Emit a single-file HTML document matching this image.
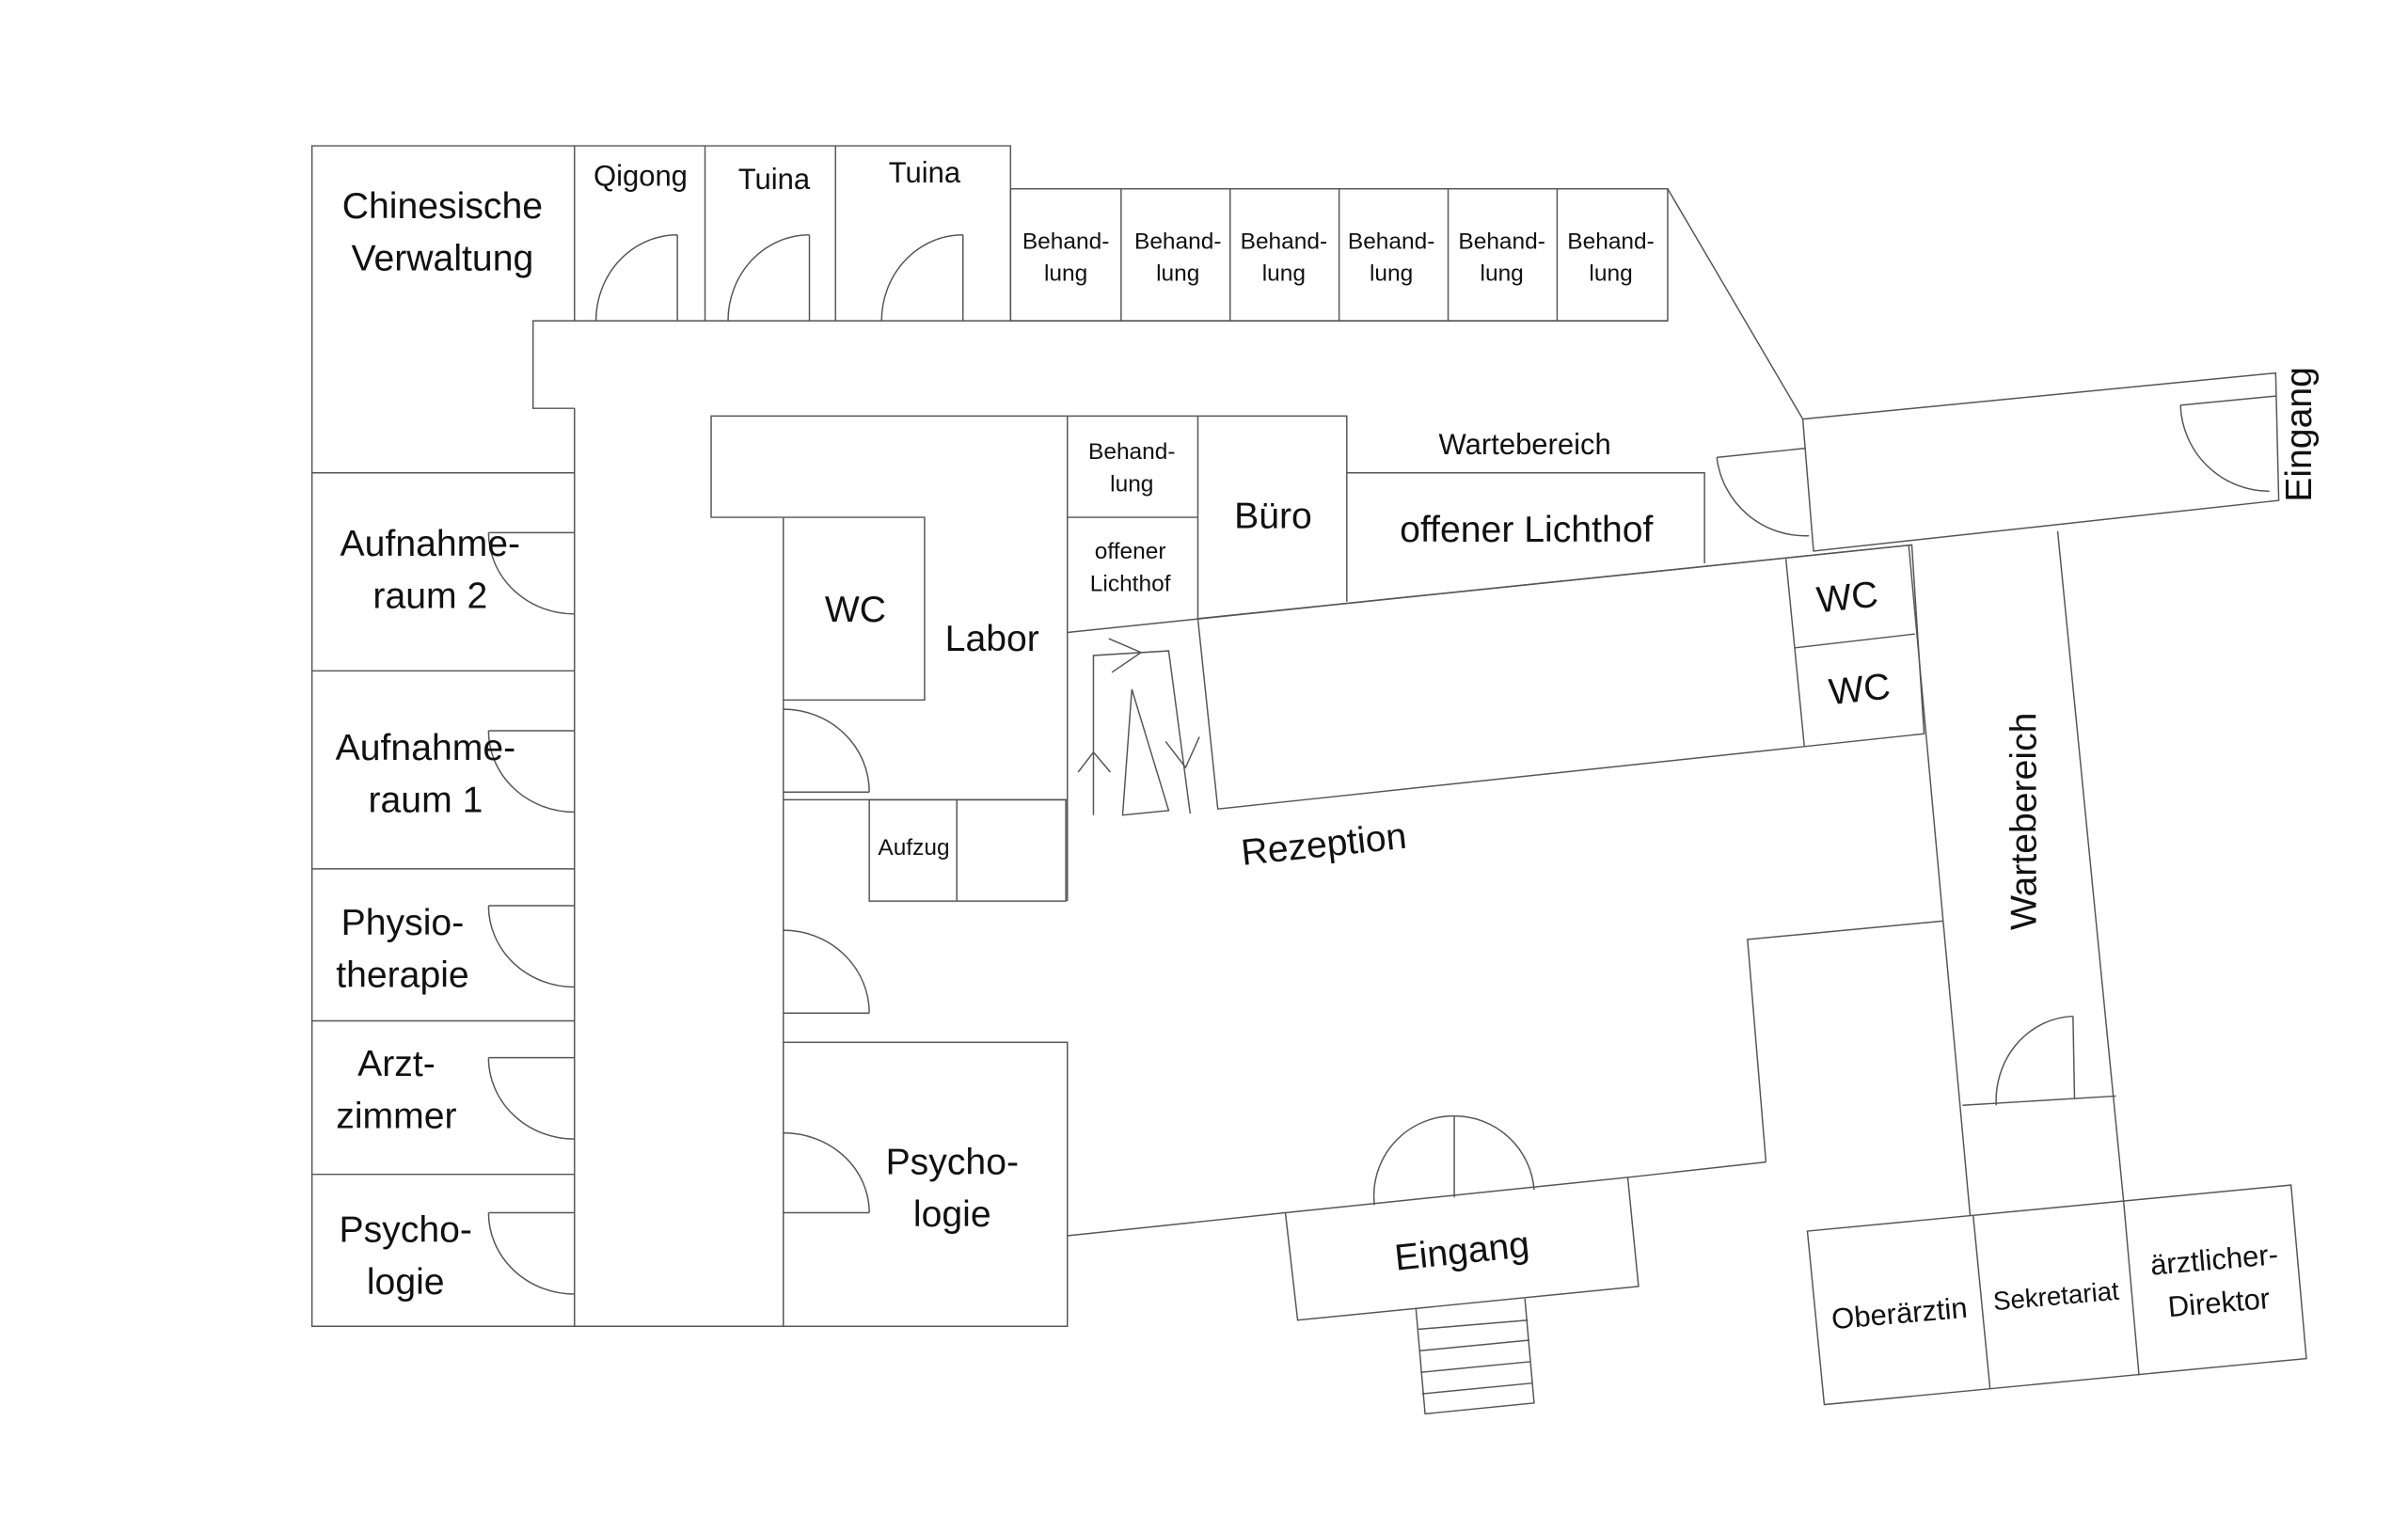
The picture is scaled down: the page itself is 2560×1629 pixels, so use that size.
<!DOCTYPE html>
<html><head><meta charset="utf-8"><style>
html,body{margin:0;padding:0;background:#fff;}
svg{display:block}
text{font-family:"Liberation Sans",sans-serif;fill:#111;}
</style></head><body>
<svg width="2560" height="1629" viewBox="0 0 1568 998" xmlns="http://www.w3.org/2000/svg">
<g fill="none" stroke="#555" stroke-width="0.9">
<!-- left column -->
<polyline points="374,209 374,95 203,95 203,864 374,864 374,266"/>
<line x1="203" y1="308" x2="374" y2="308"/>
<line x1="203" y1="437" x2="374" y2="437"/>
<line x1="203" y1="566" x2="374" y2="566"/>
<line x1="203" y1="665" x2="374" y2="665"/>
<line x1="203" y1="765" x2="374" y2="765"/>
<!-- top rooms -->
<polyline points="374,95 658,95 658,209"/>
<line x1="459" y1="95" x2="459" y2="209"/>
<line x1="544" y1="95" x2="544" y2="209"/>
<rect x="658" y="123" width="428" height="86"/>
<line x1="730" y1="123" x2="730" y2="209"/>
<line x1="801" y1="123" x2="801" y2="209"/>
<line x1="872" y1="123" x2="872" y2="209"/>
<line x1="943" y1="123" x2="943" y2="209"/>
<line x1="1014" y1="123" x2="1014" y2="209"/>
<!-- corridor -->
<polyline points="374,266 347,266 347,209 1086,209"/>
<line x1="1086" y1="123" x2="1174" y2="273"/>
<line x1="374" y1="864" x2="510" y2="864"/>
<!-- right wing entrance -->
<polygon points="1174,273 1482,243 1484,326 1181,359"/>
<line x1="1420" y1="264" x2="1482" y2="258"/>
<path d="M1420,264 A58,58 0 0 0 1478,320"/>
<line x1="1118" y1="298" x2="1176" y2="292"/>
<path d="M1118,298 A58,58 0 0 0 1178,349"/>
<!-- inner block -->
<polyline points="510,337 463,337 463,271 877,271 877,392"/>
<line x1="695" y1="271" x2="695" y2="587"/>
<line x1="780" y1="271" x2="780" y2="403"/>
<line x1="695" y1="337" x2="780" y2="337"/>
<polyline points="877,308 1110,308 1110,367"/>
<line x1="695" y1="412" x2="1245" y2="355"/>
<!-- WC labor -->
<line x1="510" y1="337" x2="510" y2="864"/>
<polyline points="510,337 602,337 602,456 510,456"/>
<line x1="510" y1="521" x2="695" y2="521"/>
<rect x="566" y="521" width="128" height="66"/>
<line x1="623" y1="521" x2="623" y2="587"/>
<line x1="510" y1="516" x2="566" y2="516"/>
<path d="M510,462 A56,54 0 0 1 566,516"/>
<line x1="510" y1="660" x2="566" y2="660"/>
<path d="M510,606 A56,54 0 0 1 566,660"/>
<rect x="510" y="679" width="185" height="185"/>
<line x1="510" y1="790" x2="566" y2="790"/>
<path d="M510,738 A56,52 0 0 1 566,790"/>
<!-- left doors -->
<line x1="318" y1="347" x2="374" y2="347"/><path d="M318,347 A56,53 0 0 0 374,400"/>
<line x1="318" y1="476" x2="374" y2="476"/><path d="M318,476 A56,53 0 0 0 374,529"/>
<line x1="318" y1="590" x2="374" y2="590"/><path d="M318,590 A56,53 0 0 0 374,643"/>
<line x1="318" y1="689" x2="374" y2="689"/><path d="M318,689 A56,53 0 0 0 374,742"/>
<line x1="318" y1="790" x2="374" y2="790"/><path d="M318,790 A56,53 0 0 0 374,843"/>
<!-- top doors -->
<line x1="441" y1="153" x2="441" y2="209"/><path d="M441,153 A53,56 0 0 0 388,209"/>
<line x1="527" y1="153" x2="527" y2="209"/><path d="M527,153 A53,56 0 0 0 474,209"/>
<line x1="627" y1="153" x2="627" y2="209"/><path d="M627,153 A53,56 0 0 0 574,209"/>
<!-- Rezeption block -->
<polygon points="780,403 793,527 1253,478 1245,355"/>
<line x1="1163" y1="364" x2="1175" y2="486"/>
<line x1="1169" y1="422" x2="1247" y2="413"/>
<!-- corridor right -->
<line x1="1243" y1="355" x2="1283" y2="792"/>
<line x1="1340" y1="346" x2="1383" y2="783"/>
<line x1="1278" y1="720" x2="1378" y2="714"/>
<line x1="1350" y1="662" x2="1351" y2="716"/>
<path d="M1350,662 A52,55 0 0 0 1300,720"/>
<!-- bottom right -->
<polygon points="1177,802 1492,772 1502,885 1188,915"/>
<line x1="1285" y1="792" x2="1296" y2="905"/>
<line x1="1383" y1="783" x2="1393" y2="896"/>
<!-- bottom main -->
<line x1="695" y1="805" x2="837" y2="790"/>
<line x1="1060" y1="767" x2="1150" y2="757"/>
<polyline points="1150,757 1138,612 1265,600"/>
<polygon points="837,790 1060,767 1067,838 845,860"/>
<line x1="947" y1="727" x2="947" y2="780"/>
<path d="M895,785 A52,52 0 0 1 947,727 A52,52 0 0 1 999,775"/>
<polyline points="922,852 928,921 999,914 993,846"/>
<line x1="923" y1="866" x2="995" y2="860"/>
<line x1="924" y1="880" x2="996" y2="873"/>
<line x1="925" y1="894" x2="997" y2="887"/>
<line x1="926" y1="908" x2="998" y2="901"/>
<!-- stairs arrows -->
<polyline points="712,531 712,427 761,424 775,530"/>
<polyline points="702,503 712,490 723,503"/>
<polyline points="722,416 743,425 724,438"/>
<polyline points="759,483 772,500 781,480"/>
<polygon points="737,449 731,531 761,528"/>
</g>
<g font-size="24">
<text x="288" y="142" text-anchor="middle">Chinesische</text>
<text x="288" y="176" text-anchor="middle">Verwaltung</text>
<text x="280" y="362" text-anchor="middle">Aufnahme-</text>
<text x="280" y="396" text-anchor="middle">raum 2</text>
<text x="277" y="495" text-anchor="middle">Aufnahme-</text>
<text x="277" y="529" text-anchor="middle">raum 1</text>
<text x="262" y="609" text-anchor="middle">Physio-</text>
<text x="262" y="643" text-anchor="middle">therapie</text>
<text x="258" y="701" text-anchor="middle">Arzt-</text>
<text x="258" y="735" text-anchor="middle">zimmer</text>
<text x="264" y="809" text-anchor="middle">Psycho-</text>
<text x="264" y="843" text-anchor="middle">logie</text>
<text x="620" y="765" text-anchor="middle">Psycho-</text>
<text x="620" y="799" text-anchor="middle">logie</text>
<text x="557" y="405" text-anchor="middle">WC</text>
<text x="646" y="424" text-anchor="middle">Labor</text>
<text x="829" y="344" text-anchor="middle">Büro</text>
<text x="994" y="353" text-anchor="middle">offener Lichthof</text>
<text x="1203" y="397" text-anchor="middle" transform="rotate(-6 1203 389)">WC</text>
<text x="1211" y="457" text-anchor="middle" transform="rotate(-6 1211 449)">WC</text>
<text x="862" y="558" text-anchor="middle" transform="rotate(-6 862 550)">Rezeption</text>
<text x="952" y="823" text-anchor="middle" transform="rotate(-6 952 815)">Eingang</text>
<text x="1318" y="535" text-anchor="middle" transform="rotate(-90 1318 535)" dy="8">Wartebereich</text>
<text x="1497" y="283" text-anchor="middle" transform="rotate(-90 1497 283)" dy="8">Eingang</text>
</g>
<g font-size="19">
<text x="417" y="121" text-anchor="middle">Qigong</text>
<text x="504" y="123" text-anchor="middle">Tuina</text>
<text x="602" y="119" text-anchor="middle">Tuina</text>
<text x="993" y="296" text-anchor="middle">Wartebereich</text>
<text x="1237" y="862" text-anchor="middle" transform="rotate(-5 1237 856)">Oberärztin</text>
<text x="1442" y="827" text-anchor="middle" transform="rotate(-5 1442 821)">ärztlicher-</text>
<text x="1445" y="855" text-anchor="middle" transform="rotate(-5 1445 849)">Direktor</text>
</g>
<g font-size="15">
<text x="694" y="162" text-anchor="middle">Behand-</text><text x="694" y="183" text-anchor="middle">lung</text>
<text x="767" y="162" text-anchor="middle">Behand-</text><text x="767" y="183" text-anchor="middle">lung</text>
<text x="836" y="162" text-anchor="middle">Behand-</text><text x="836" y="183" text-anchor="middle">lung</text>
<text x="906" y="162" text-anchor="middle">Behand-</text><text x="906" y="183" text-anchor="middle">lung</text>
<text x="978" y="162" text-anchor="middle">Behand-</text><text x="978" y="183" text-anchor="middle">lung</text>
<text x="1049" y="162" text-anchor="middle">Behand-</text><text x="1049" y="183" text-anchor="middle">lung</text>
<text x="737" y="299" text-anchor="middle">Behand-</text><text x="737" y="320" text-anchor="middle">lung</text>
<text x="736" y="364" text-anchor="middle">offener</text><text x="736" y="385" text-anchor="middle">Lichthof</text>
<text x="595" y="557" text-anchor="middle">Aufzug</text>
<text x="1339" y="850" text-anchor="middle" transform="rotate(-5 1339 845)" font-size="17">Sekretariat</text>
</g>
</svg>
</body></html>
